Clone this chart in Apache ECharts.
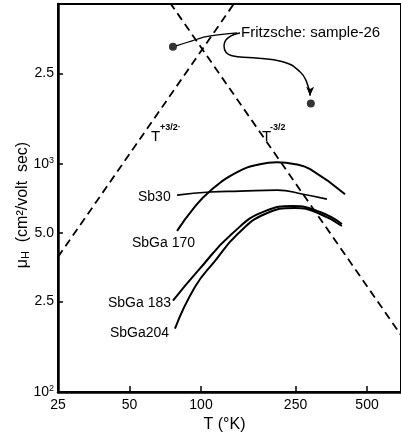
<!DOCTYPE html>
<html>
<head>
<meta charset="utf-8">
<script src="https://cdn.jsdelivr.net/npm/echarts@6/dist/echarts.min.js"></script>
<style>
html,body{margin:0;padding:0;background:#fff;}
#chart{width:401px;height:438px;}
</style>
</head>
<body>
<div id="chart"></div>
<script>
// ---- data (T in K, mobility in cm^2/volt sec) ----
const tempTicks = [25, 50, 100, 250, 500];
const mobilityTicks = [100, 250, 500, 1000, 2500];
const mobilityTickLabels = ['10{sup|2}', '2.5', '5.0', '10{sup|3}', '2.5'];

const sbGa170 = [[79.3,510],[92.5,636],[109,762],[142,923],[177,1000],[209,1020],[250,1000],[288,951],[404,739]];
const sb30 = [[79.3,732],[109,755],[146,762],[209,770],[269,739],[339,703]];
const sbGa183 = [[76.2,252],[97.2,341],[135,495],[186,623],[244,655],[317,617],[392,547]];
const sbGa204 = [[77.7,190],[94.4,290],[114.6,377],[143,495],[186,605],[249,643],[317,605],[392,536]];
const fritzsche = [[76.2,3275],[290,1847]];
const tPlus32 = [[25,392],[140,5195]];
const tMinus32 = [[74,5120],[700,176]];
const fritzscheLeader = [[141.8,3770],[104,3624],[91.7,3479],[78.5,3309]];
const fritzscheArrow = [[146,3770],[130,3586],[125,3309],[135,2993],[165.6,2932],[221,2817],[261,2547],[279,2281],[288,2000]];

const chart = echarts.init(document.getElementById('chart'), null, {renderer:'canvas'});
const FONT = 'Liberation Sans, Arial, sans-serif';
const solid = (name, data, w) => ({
  name, type:'line', data, smooth:0.5, symbol:'none', silent:true,
  lineStyle:{color:'#000', width:w||2}
});
const dashed = (name, data) => ({
  name, type:'line', data, symbol:'none', silent:true,
  lineStyle:{color:'#000', width:1.8, type:[8,5]}
});
const arrowData = fritzscheArrow.map((p,i) => i === fritzscheArrow.length-1
  ? {value:p, symbol:'arrow', symbolSize:[6,9], symbolRotate:180, itemStyle:{color:'#000'}} : {value:p});

chart.setOption({
  animation:false,
  backgroundColor:'#fff',
  grid:{left:58, right:-3, top:4, bottom:44, show:true, borderColor:'#000', borderWidth:2},
  xAxis:{
    type:'log', logBase:10, min:25, max:695,
    name:'T (°K)', nameLocation:'middle', nameGap:24,
    nameTextStyle:{fontFamily:FONT, fontSize:16, color:'#000', padding:[0,10,0,0]},
    axisLine:{show:true, lineStyle:{color:'#000', width:2.5}},
    axisTick:{show:true, inside:true, length:6, customValues:tempTicks, lineStyle:{color:'#000', width:1.5}},
    axisLabel:{customValues:tempTicks, margin:6, fontFamily:FONT, fontSize:14, color:'#000',
      formatter:v => String(Math.round(v))},
    splitLine:{show:false}, minorTick:{show:false}
  },
  yAxis:{
    type:'log', logBase:10, min:100, max:5050,
    name:'μ{sub|H}  (cm²/volt  sec)', nameLocation:'middle', nameGap:27, nameRotate:90,
    nameMoveOverlap:false,
    nameTextStyle:{fontFamily:FONT, fontSize:16, color:'#000', padding:[0,14,0,0],
      rich:{sub:{fontSize:11, fontFamily:FONT, padding:[6,0,0,0]}}},
    axisLine:{show:true, lineStyle:{color:'#000', width:2.5}},
    axisTick:{show:true, inside:true, length:5, customValues:mobilityTicks, lineStyle:{color:'#000', width:1.5}},
    axisLabel:{customValues:mobilityTicks, margin:4, fontFamily:FONT, fontSize:14, color:'#000',
      formatter:v => { const i = mobilityTicks.findIndex(t => Math.abs(t - v) / t < 1e-3); return i >= 0 ? mobilityTickLabels[i] : ''; },
      rich:{sup:{fontSize:9, fontFamily:FONT, color:'#000', padding:[0,0,8,0]}}},
    splitLine:{show:false}, minorTick:{show:false}
  },
  series:[
    dashed('T+3/2', tPlus32),
    dashed('T-3/2', tMinus32),
    solid('SbGa 170', sbGa170),
    solid('Sb30', sb30, 1.6),
    solid('SbGa 183', sbGa183),
    solid('SbGa204', sbGa204),
    {name:'Fritzsche leader', type:'line', data:fritzscheLeader, smooth:0.3, symbol:'none', silent:true,
      lineStyle:{color:'#000', width:1.2}},
    {name:'Fritzsche arrow', type:'line', data:arrowData, smooth:0.5, showSymbol:true, symbol:'none', silent:true,
      lineStyle:{color:'#000', width:1.5}},
    {name:'Fritzsche: sample-26', type:'scatter', data:fritzsche, symbol:'circle', symbolSize:8, silent:true,
      itemStyle:{color:'#000'}}
  ],
  graphic:[
    {type:'text', left:241, top:25, style:{text:'Fritzsche: sample-26', font:'15px '+FONT, fill:'#000'}},
    {type:'text', left:138, top:190, style:{text:'Sb30', font:'14px '+FONT, fill:'#000'}},
    {type:'text', left:132, top:236, style:{text:'SbGa 170', font:'14px '+FONT, fill:'#000'}},
    {type:'text', left:108, top:296, style:{text:'SbGa 183', font:'14px '+FONT, fill:'#000'}},
    {type:'text', left:110, top:326, style:{text:'SbGa204', font:'14px '+FONT, fill:'#000'}},
    {type:'text', left:151, top:129, style:{text:'T', font:'15px '+FONT, fill:'#000'}},
    {type:'text', left:160, top:123, style:{text:'+3/2·', font:'bold 9px '+FONT, fill:'#000'}},
    {type:'text', left:262, top:129, style:{text:'T', font:'15px '+FONT, fill:'#000'}},
    {type:'text', left:270, top:123, style:{text:'-3/2', font:'bold 9px '+FONT, fill:'#000'}}
  ]
});
</script>
</body>
</html>
